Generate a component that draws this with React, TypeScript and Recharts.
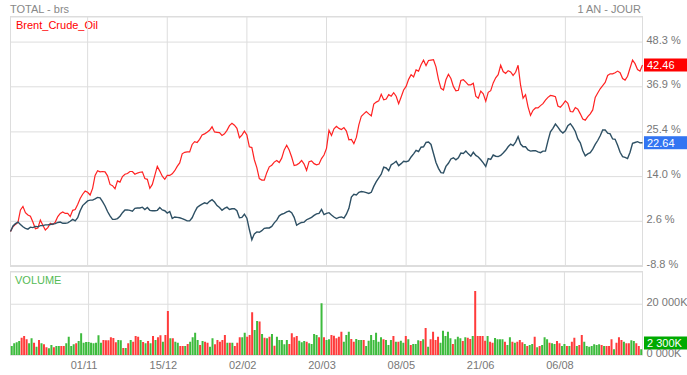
import {
  Bar,
  CartesianGrid,
  Cell,
  ComposedChart,
  Line,
  ReferenceLine,
  XAxis,
  YAxis,
} from "recharts";

const FONT = '"Liberation Sans", Arial, sans-serif';
const GRID = "#dddddd";
const RED = "#ff3b3b";
const GREEN = "#3dbb3d";

const dateLabels = ["01/11", "15/12", "02/02", "20/03", "08/05", "21/06", "06/08"];
const dateIndex = [31, 63, 95, 127, 159, 191, 223];
const pctTicks = [-8.8, 2.6, 14.0, 25.4, 36.9, 48.3];
const volTicks = [0, 20000];

// % change since start, one point per trading day
const brent = [
  0.0, 1.2, 1.8, 2.3, 5.5, 6.4, 4.8, 4.2, 3.9, 2.4,
  0.7, 0.9, 2.9, 1.6, 0.4, 1.0, 2.1, 1.8, 2.4, 3.8,
  4.6, 5.0, 4.6, 4.6, 3.8, 5.4, 5.6, 6.9, 8.4, 9.5,
  10.3, 10.0, 9.3, 11.0, 14.3, 15.5, 15.2, 15.3, 15.2, 14.2,
  12.0, 11.7, 10.9, 12.9, 12.6, 14.0, 14.6, 14.8, 15.3, 15.3,
  14.6, 14.9, 15.1, 15.2, 13.5, 13.3, 11.0, 12.0, 14.3, 16.6,
  15.4, 14.1, 13.3, 14.3, 14.3, 14.7, 15.5, 16.6, 17.5, 19.8,
  20.2, 20.3, 20.3, 22.2, 22.9, 22.7, 23.5, 24.6, 24.9, 25.3,
  25.8, 26.7, 25.4, 25.3, 25.2, 24.5, 24.9, 25.8, 27.0, 27.6,
  27.1, 26.3, 23.9, 24.6, 25.6, 24.6, 21.6, 21.4, 18.3, 16.3,
  13.5, 13.1, 13.1, 15.0, 16.5, 16.9, 17.7, 18.1, 17.6, 18.7,
  20.8, 22.0, 20.8, 19.0, 16.8, 17.0, 17.4, 18.1, 17.2, 15.6,
  17.8, 18.0, 17.3, 17.0, 17.2, 18.6, 19.5, 21.2, 25.8, 24.5,
  26.2, 26.8, 26.3, 26.0, 26.5, 25.6, 23.4, 23.5, 22.4, 24.0,
  27.2, 29.4, 30.0, 30.6, 30.0, 29.5, 32.5, 33.0, 33.3, 35.0,
  33.6, 33.8, 34.9, 34.5, 35.4, 34.5, 32.6, 34.3, 36.1, 37.0,
  38.8, 40.0, 39.4, 41.2, 40.9, 42.5, 43.7, 42.3, 43.6, 43.7,
  43.8, 42.0, 38.8, 36.5, 36.1, 38.7, 40.1, 39.0, 37.0, 35.9,
  36.0, 38.5, 38.7, 38.1, 37.4, 37.4, 37.8, 34.5, 34.0, 35.8,
  35.1, 33.2, 35.5, 35.9, 37.9, 39.2, 40.0, 42.4, 40.8, 40.3,
  41.0, 40.7, 39.8, 40.6, 42.4, 37.3, 34.0, 34.9, 31.8, 29.6,
  30.9, 31.5, 31.5, 32.1, 32.6, 33.5, 34.2, 34.7, 34.6, 34.4,
  32.0, 31.7, 32.4, 33.3, 32.7, 30.6, 30.5, 31.6, 31.2, 30.0,
  28.7, 28.4, 29.3, 30.0, 31.0, 34.2, 35.3, 36.4, 37.2, 38.0,
  39.8, 40.2, 40.2, 40.5, 40.9, 40.5, 39.0, 38.6, 39.6, 41.7,
  43.7, 42.8, 41.3, 40.9, 42.46,
];

const total = [
  0.0, 1.4, 2.0, 2.4, 1.8, 1.2, 0.8, 0.6, 1.1, 1.0,
  1.3, 1.2, 1.5, 1.5, 1.7, 1.7, 1.8, 1.9, 2.0, 2.3,
  2.4, 2.1, 2.1, 2.2, 2.6, 3.1, 2.7, 3.5, 5.3, 6.6,
  7.2, 7.8, 8.0, 8.0, 8.3, 8.7, 8.6, 7.6, 6.5, 5.1,
  4.0, 3.1, 3.1, 3.3, 3.9, 4.8, 5.5, 5.5, 5.4, 5.2,
  5.9, 6.0, 6.0, 6.2, 5.6, 6.1, 5.4, 5.3, 5.3, 5.4,
  6.1, 5.5, 5.3, 4.7, 5.1, 3.3, 3.7, 3.6, 3.5, 3.3,
  3.0, 2.7, 2.7, 3.5, 4.9, 6.1, 6.6, 7.0, 7.3, 7.1,
  7.7, 8.1, 7.5, 6.6, 6.1, 5.4, 5.9, 6.2, 5.6, 5.8,
  5.8, 5.3, 3.5, 3.6, 4.4, 3.4, 0.5, -2.1, -0.6, -0.1,
  -0.2, 0.2, 0.8, 0.9, 0.9, 1.3, 2.2, 2.9, 4.0, 4.4,
  4.6, 5.0, 5.2, 4.8, 3.6, 1.6, 2.0, 2.3, 2.4, 3.0,
  3.3, 3.6, 4.1, 4.5, 4.6, 5.6, 4.3, 4.6, 4.8, 4.2,
  3.7, 3.3, 3.6, 3.7, 3.4, 4.4, 5.9, 8.8, 9.5, 9.3,
  10.0, 10.2, 10.1, 9.9, 9.7, 10.0, 11.5, 12.7, 13.7, 14.6,
  16.4, 16.2, 15.5, 17.0, 17.4, 17.9, 16.8, 17.3, 17.9, 17.8,
  18.0, 19.0, 19.8, 20.7, 20.4, 21.5, 21.6, 22.7, 22.8, 22.2,
  19.9, 17.6, 16.1, 15.0, 14.9, 16.6, 17.4, 18.5, 18.8, 18.3,
  18.8, 20.0, 19.9, 20.5, 19.8, 19.2, 20.2, 19.4, 19.0, 18.3,
  17.5, 16.6, 18.6, 18.4, 19.5, 19.2, 19.1, 19.4, 20.0, 20.7,
  21.6, 22.3, 21.9, 22.8, 24.2, 22.3, 21.6, 21.6, 20.8, 20.5,
  20.6, 20.6, 20.3, 20.1, 20.5, 20.5, 23.1, 25.4, 26.3, 27.4,
  26.6, 25.7, 25.1, 25.7, 27.0, 27.5, 26.6, 25.5, 23.6, 22.6,
  20.6, 19.3, 19.8, 20.1, 21.0, 22.2, 23.2, 24.4, 25.9, 25.9,
  25.1, 24.9, 23.6, 23.5, 22.0, 20.2, 19.1, 18.9, 18.6, 20.2,
  22.5, 22.7, 22.9, 22.6, 22.64,
];

// volume in K
const volume = [
  3550, 4600, 5000, 5520, 6840, 7500, 6180, 4600, 6580, 4870,
  3290, 5920, 4600, 4210, 3020, 2630, 3950, 3020, 3550, 3550,
  3550, 3550, 4600, 7230, 3550, 4210, 4600, 5520, 8550, 4870,
  5130, 5130, 4870, 4600, 4870, 7760, 4870, 5920, 5790, 5790,
  6970, 6710, 5000, 5920, 5790, 2760, 2760, 4600, 5920, 5260,
  7500, 7230, 5920, 5130, 4600, 5520, 4600, 7500, 5920, 6970,
  7760, 5260, 7890, 17360, 6580, 6580, 5260, 4870, 3550, 3550,
  3550, 4340, 5260, 6970, 8810, 5920, 3950, 5520, 5260, 4870,
  3290, 6580, 4210, 5920, 5260, 5920, 7890, 4870, 4870, 4870,
  3550, 4870, 6970, 6970, 8810, 7230, 7890, 16830, 9860, 13410,
  13150, 8280, 6840, 6580, 7230, 8280, 3680, 7230, 5920, 5920,
  4210, 5920, 4340, 8550, 6970, 7500, 5650, 5000, 5520, 5260,
  4600, 4340, 8280, 7890, 6970, 20380, 6970, 5920, 6180, 7890,
  7630, 6580, 7230, 9200, 5260, 7890, 9200, 6310, 5260, 6310,
  5920, 5920, 5920, 3550, 5650, 7890, 5920, 8810, 5260, 6970,
  6180, 5920, 3950, 5920, 7500, 5260, 5260, 5650, 4870, 7500,
  6180, 3950, 4340, 4340, 5790, 5520, 6180, 10650, 3290, 6180,
  9200, 5920, 7230, 4870, 9600, 7500, 9200, 6580, 4340, 6180,
  7230, 6580, 5520, 6970, 6840, 6310, 7500, 25250, 7500, 7500,
  7500, 5650, 7500, 5260, 4870, 6710, 6180, 6180, 6180, 5260,
  3950, 6970, 5260, 4870, 5260, 5920, 5000, 4340, 3550, 3950,
  4340, 7230, 3020, 3550, 3950, 6970, 6180, 4870, 4600, 4340,
  5520, 4600, 3550, 4340, 3550, 3550, 5260, 6840, 3550, 3950,
  7890, 5260, 3550, 3290, 3550, 4210, 3950, 4210, 3950, 3550,
  3550, 3550, 6180, 2240, 4870, 6970, 5920, 5260, 4600, 4600,
  5790, 5520, 4600, 3550, 2300,
];

// g = up day, r = down day
const volDir =
  "ggggrrrggr" + "grgrrggrgg" + "rrggggrggg" + "gggggggrrr" + "rrrggrgrgr" +
  "rrgrgrgrgr" + "rgrrgrggrr" + "grggggrgrr" + "ggrrrrrgrg" + "rrrggrrrgg" +
  "rgrgrgrggg" + "ggrrrrgggr" + "ggggrgrggr" + "rrrrgggrrg" + "ggrggggggg" +
  "rgggrgrggr" + "grgggrgrgr" + "rrrgggggrg" + "ggrgrrgrrr" + "rrgrrggggr" +
  "ggrgrrrgrg" + "grgrgggrgg" + "rrggrgrrgr" + "rgggggggrg" + "rrrgrrrgrr" +
  "ggrrg";

const data = brent.map((b, i) => ({ i, brent: b, total: total[i], vol: volume[i] }));

const fmtK = (v: number) =>
  `${Math.floor(v / 1000)} ${String(Math.round(v % 1000)).padStart(3, "0")}K`;

function PctTick(props: any) {
  const { x, y, payload } = props;
  return (
    <text x={x} y={y + 1.5} fontSize={11} fill="#777" fontFamily={FONT} textAnchor="start">
      {`${Number(payload.value).toFixed(1)} %`}
    </text>
  );
}

function VolTick(props: any) {
  const { x, y, payload } = props;
  return (
    <text x={x} y={y + 1.5} fontSize={11} fill="#777" fontFamily={FONT} textAnchor="start">
      {fmtK(payload.value)}
    </text>
  );
}

function DateTick(props: any) {
  const { x, y, payload } = props;
  const k = dateIndex.indexOf(payload.value);
  if (k < 0) return null;
  return (
    <text x={x - 4.5} y={y + 14} fontSize={11} fill="#777" fontFamily={FONT} textAnchor="middle">
      {dateLabels[k]}
    </text>
  );
}

function Tag(props: any) {
  const { viewBox, text, fill, lift } = props;
  const left = viewBox.x + viewBox.width + 1.5;
  const cy = lift != null ? Math.min(viewBox.y, lift) : viewBox.y;
  return (
    <g>
      <rect x={left} y={cy - 6.5} width={44} height={13} fill={fill} />
      <text x={left + 3} y={cy + 4} fontSize={11} fill="#fff" fontFamily={FONT}>
        {text}
      </text>
    </g>
  );
}

export default function App() {
  const lastBrent = brent[brent.length - 1];
  const lastTotal = total[total.length - 1];
  const lastVol = volume[volume.length - 1];
  return (
    <div
      style={{
        position: "absolute",
        left: 0,
        top: 0,
        width: 687,
        height: 375,
        background: "#fff",
        fontFamily: FONT,
        overflow: "hidden",
      }}
    >
      <svg width={687} height={375} style={{ position: "absolute", left: 0, top: 0 }}>
        <rect x={10.5} y={16.5} width={632} height={249} fill="none" stroke={GRID} />
        <line x1={10} x2={643} y1={266.5} y2={266.5} stroke={GRID} />
        <rect x={10.5} y={271.5} width={632} height={83.5} fill="none" stroke={GRID} />
        <text x={10} y={12.5} fontSize={11} fill="#888">TOTAL - brs</text>
        <text x={641} y={12.5} fontSize={11} fill="#888" textAnchor="end">1 AN - JOUR</text>
        <text x={16} y={28.5} fontSize={11} fill="#ff0000">Brent_Crude_Oil</text>
        <text x={15} y={284} fontSize={11} fill="#55bb55">VOLUME</text>
      </svg>

      <div style={{ position: "absolute", left: 0, top: 0 }}>
        <ComposedChart width={687} height={270} data={data} margin={{ top: 17, right: 0, bottom: 4, left: 10.5 }}>
          <CartesianGrid stroke={GRID} verticalValues={dateIndex} />
          <XAxis dataKey="i" type="category" hide />
          <YAxis
            orientation="right"
            width={44.5}
            domain={[-8.8, 54.7]}
            ticks={pctTicks}
            interval={0}
            tick={<PctTick />}
            tickLine={false}
            axisLine={false}
            tickSize={0}
            tickMargin={4}
            allowDataOverflow
          />
          <Line dataKey="brent" type="linear" stroke="#ff2222" strokeWidth={1.2} dot={false} isAnimationActive={false} />
          <Line dataKey="total" type="linear" stroke="#2e5064" strokeWidth={1.4} dot={false} isAnimationActive={false} />
          <ReferenceLine y={lastBrent} stroke="none" label={<Tag text={lastBrent.toFixed(2)} fill="#ff0000" />} />
          <ReferenceLine y={lastTotal} stroke="none" label={<Tag text={lastTotal.toFixed(2)} fill="#3375f2" />} />
        </ComposedChart>
      </div>

      <div style={{ position: "absolute", left: 0, top: 260 }}>
        <ComposedChart
          width={687}
          height={115}
          data={data}
          margin={{ top: 12, right: 0, bottom: 0, left: 10.5 }}
          barCategoryGap={0.24}
          barGap={0}
        >
          <CartesianGrid stroke={GRID} verticalValues={dateIndex} />
          <XAxis
            dataKey="i"
            type="category"
            height={20}
            interval={0}
            tick={<DateTick />}
            tickLine={false}
            axisLine={false}
            tickSize={0}
            tickMargin={0}
          />
          <YAxis
            orientation="right"
            width={44.5}
            domain={[0, 32700]}
            ticks={volTicks}
            interval={0}
            tick={<VolTick />}
            tickLine={false}
            axisLine={false}
            tickSize={0}
            tickMargin={4}
            allowDataOverflow
          />
          <Bar dataKey="vol" isAnimationActive={false}>
            {data.map((d) => (
              <Cell key={d.i} fill={volDir[d.i] === "g" ? GREEN : RED} />
            ))}
          </Bar>
          <ReferenceLine y={lastVol} stroke="none" label={<Tag text={fmtK(lastVol)} fill="#00aa00" lift={83} />} />
        </ComposedChart>
      </div>
    </div>
  );
}
